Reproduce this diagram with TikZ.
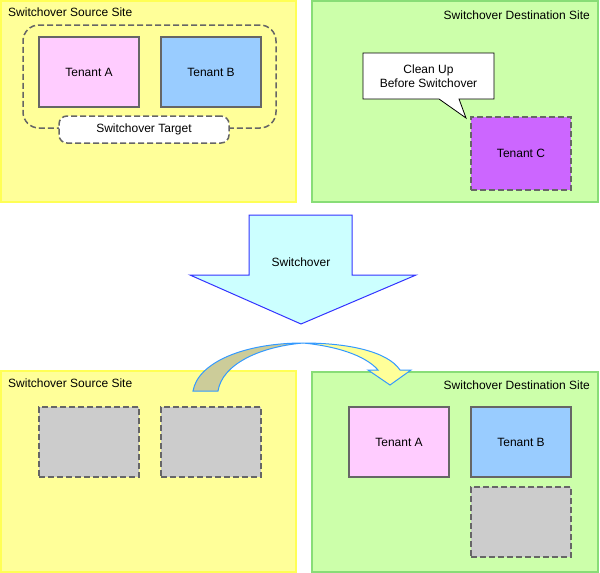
\documentclass[tikz,border=0pt]{standalone}
\usepackage{fontspec}
\setmainfont{Liberation Sans}
\usetikzlibrary{shapes.callouts}

\definecolor{srcfill}{HTML}{FFFF99}
\definecolor{srcline}{HTML}{FFFF55}
\definecolor{dstfill}{HTML}{CCFFAA}
\definecolor{dstline}{HTML}{88DD77}
\definecolor{boxline}{HTML}{666666}
\definecolor{tenA}{HTML}{FFCCFF}
\definecolor{tenB}{HTML}{99CCFF}
\definecolor{tenC}{HTML}{CC66FF}
\definecolor{emptygray}{HTML}{CCCCCC}
\definecolor{arrfill}{HTML}{CCFFFF}
\definecolor{arrline}{HTML}{3333FF}
\definecolor{bendline}{HTML}{3399FF}
\definecolor{bendback}{HTML}{CCCC99}

\begin{document}
\begin{tikzpicture}[x=1pt, y=-1pt, font=\fontsize{12}{14}\selectfont,
    site/.style={draw, line width=1.5pt, minimum width=295pt, minimum height=201pt, inner sep=0pt},
    srcsite/.style={site, draw=srcline, fill=srcfill},
    dstsite/.style={site, draw=dstline, fill=dstfill},
    tenant/.style={draw=boxline, line width=1.5pt, minimum width=100pt, minimum height=70pt, inner sep=0pt},
    vacant/.style={tenant, fill=emptygray, dash pattern=on 6pt off 3pt},
    sitelabel/.style={inner sep=0pt}]
    \useasboundingbox (0,0) rectangle (600,573);

    % before switchover
    \node [srcsite] (srcTop) at (148.5,101.5) {};
    \node [sitelabel, anchor=west] (srcTopLbl) at (8,12) {Switchover Source Site};
    \node [draw=boxline, line width=1.5pt, dash pattern=on 6pt off 3pt, rounded corners=16pt,
           minimum width=253pt, minimum height=103pt] (scope) at (149.5,76.5) {};
    \node [tenant, fill=tenA] (tA) at (89,72) {Tenant A};
    \node [tenant, fill=tenB] (tB) at (211,72) {Tenant B};
    \node [draw=boxline, line width=1.5pt, dash pattern=on 6pt off 3pt, rounded corners=8pt, fill=white,
           minimum width=170pt, minimum height=27pt, inner sep=0pt] (target) at (144,129.5) {Switchover Target};

    \node [dstsite, minimum width=286pt] (dstTop) at (455,101.5) {};
    \node [sitelabel, anchor=east] (dstTopLbl) at (590,15) {Switchover Destination Site};
    \node [vacant, fill=tenC, minimum height=73pt] (tC) at (521,153.5) {Tenant C};
    \node [rectangle callout, draw=black, fill=white, line width=0.8pt, align=center,
           minimum width=131pt, minimum height=46pt, inner sep=0pt,
           callout absolute pointer={(466,118)}, callout pointer width=20pt] (note) at (428.5,76) {Clean Up\\Before Switchover};

    % switchover
    \draw [draw=arrline, fill=arrfill, line width=1pt]
        (249,215) -- (352,215) -- (352,275) -- (416,275) -- (301,324) -- (190,275) -- (249,275) -- cycle;
    \node (sw) at (301,262) {Switchover};

    % after switchover
    \node [srcsite] (srcBot) at (148.5,471.5) {};
    \node [sitelabel, anchor=west] (srcBotLbl) at (8,383) {Switchover Source Site};
    \node [vacant] (eA) at (89,442) {};
    \node [vacant] (eB) at (211,442) {};

    \node [dstsite, minimum width=286pt, minimum height=200pt] (dstBot) at (455,472) {};
    \node [sitelabel, anchor=east] (dstBotLbl) at (590,385) {Switchover Destination Site};
    \node [tenant, fill=tenA] (mA) at (399,442) {Tenant A};
    \node [tenant, fill=tenB] (mB) at (521,442) {Tenant B};
    \node [vacant] (eC) at (521,522) {};

    % moving arrow
    \draw [draw=bendline, fill=bendback, line width=1pt]
        (193,391) .. controls (198,362) and (245,343) .. (303,343)
        .. controls (258,347) and (222,365) .. (218,391) -- cycle;
    \draw [draw=bendline, fill=srcfill, line width=1pt]
        (303,343) .. controls (350,343) and (388,352) .. (400,370) -- (411,370) -- (390,385)
        -- (368,370) -- (378,370) .. controls (365,355) and (335,346) .. (303,343) -- cycle;
\end{tikzpicture}
\end{document}
